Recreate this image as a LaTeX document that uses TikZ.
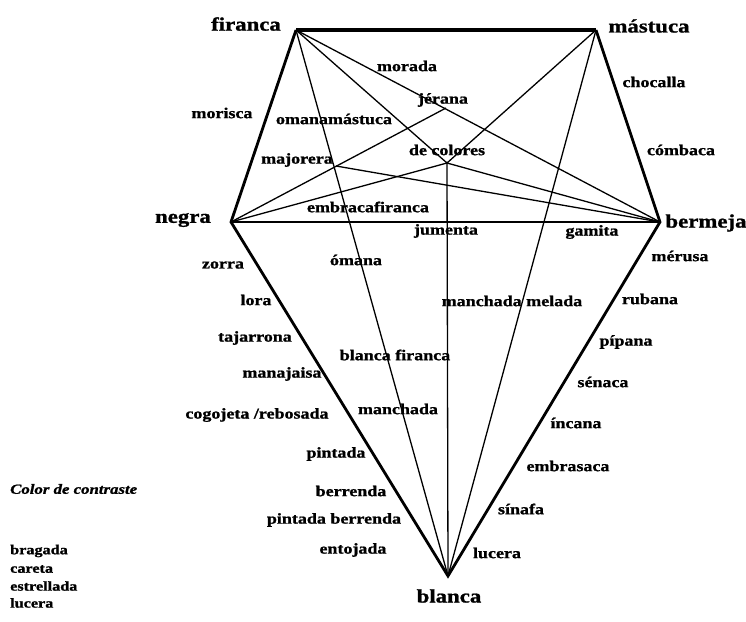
\documentclass[tikz,border=0pt]{standalone}
\usepackage{fontspec}
\setmainfont{Liberation Serif}[FakeStretch=1.2,BoldFeatures={FakeBold=1.2},BoldItalicFeatures={FakeBold=1.2}]
\usetikzlibrary{positioning}

\begin{document}
\begin{tikzpicture}[x=1pt,y=-1pt,
  rim/.style={line width=2.8pt,line join=miter},
  mix/.style={line width=1.3pt},
  corner/.style={font=\fontsize{19}{19}\selectfont\bfseries,inner sep=0pt},
  shade/.style={font=\fontsize{15}{15}\selectfont\bfseries,inner sep=0pt},
  legend/.style={font=\fontsize{13.5}{17}\selectfont\bfseries,inner sep=0pt,anchor=west}
]
\useasboundingbox (0,0) rectangle (746,621);
% base colours
\coordinate (fir) at (296,30);
\coordinate (mas) at (596,30);
\coordinate (neg) at (231,222);
\coordinate (ber) at (660,222);
\coordinate (bla) at (448,576);
\coordinate (jer) at (446,108);
\coordinate (dec) at (447,163);
\coordinate (maj) at (336,166);
\node[corner] (firanca) at (246,24) {firanca};
\node[corner] (mastuca) at (649,26) {mástuca};
\node[corner] (negra) at (183,220) {negra};
\node[corner] (bermeja) at (706,223) {bermeja};
\node[corner] (blanca) at (449,596) {blanca};
% mixtures
\draw[mix] (fir) -- (bla);
\draw[mix] (fir) -- (dec);
\draw[mix] (fir) -- (ber);
\draw[mix] (mas) -- (dec);
\draw[mix] (mas) -- (bla);
\draw[mix] (neg) -- (jer);
\draw[mix] (neg) -- (dec);
\draw[mix] (neg) -- (ber);
\draw[mix] (maj) -- (ber);
\draw[mix] (dec) -- (ber);
\draw[mix] (dec) -- (bla);
\draw[rim] (mas) -- (ber) -- (bla) -- (neg) -- (fir);
\draw[rim,line width=3.6pt] (fir) -- (mas);
% shade labels
\node[shade] (morada) at (407,66) {morada};
\node[shade] (jerana) at (443,100) {jérana};
\node[shade] (morisca) at (222,113) {morisca};
\node[shade] (omanamastuca) at (334,119) {omanamástuca};
\node[shade] (majorera) at (297,160) {majorera};
\node[shade] (colores) at (447,150) {de colores};
\node[shade] (embracafiranca) at (368,207) {embracafiranca};
\node[shade] (jumenta) at (446,231) {jumenta};
\node[shade] (gamita) at (592,232) {gamita};
\node[shade] (chocalla) at (654,82) {chocalla};
\node[shade] (combaca) at (681,150) {cómbaca};
\node[shade] (omana) at (356,260) {ómana};
\node[shade] (zorra) at (223,265) {zorra};
\node[shade] (lora) at (256,300) {lora};
\node[shade] (tajarrona) at (255,338) {tajarrona};
\node[shade] (blancafiranca) at (395,355) {blanca firanca};
\node[shade] (manajaisa) at (282,374) {manajaisa};
\node[shade] (cogojeta) at (257,415) {cogojeta /rebosada};
\node[shade] (manchada) at (398,409) {manchada};
\node[shade] (melada) at (512,301) {manchada melada};
\node[shade] (merusa) at (680,256) {mérusa};
\node[shade] (rubana) at (650,299) {rubana};
\node[shade] (pipana) at (626,342) {pípana};
\node[shade] (senaca) at (603,382) {sénaca};
\node[shade] (incana) at (576,423) {íncana};
\node[shade] (embrasaca) at (568,466) {embrasaca};
\node[shade] (sinafa) at (521,509) {sínafa};
\node[shade] (lucera) at (497,553) {lucera};
\node[shade] (pintada) at (336,454) {pintada};
\node[shade] (berrenda) at (351,491) {berrenda};
\node[shade] (pintadaberrenda) at (334,520) {pintada berrenda};
\node[shade] (entojada) at (353,550) {entojada};
% contrast
\node[legend,font=\fontsize{14}{17}\selectfont\bfseries\itshape] (contraste) at (10,489) {Color\ de\ contraste};
\node[legend] (bragada) at (10,551) {bragada};
\node[legend] (careta) at (10,569) {careta};
\node[legend] (estrellada) at (10,586) {estrellada};
\node[legend] (lucerab) at (10,603) {lucera};
\end{tikzpicture}
\end{document}
